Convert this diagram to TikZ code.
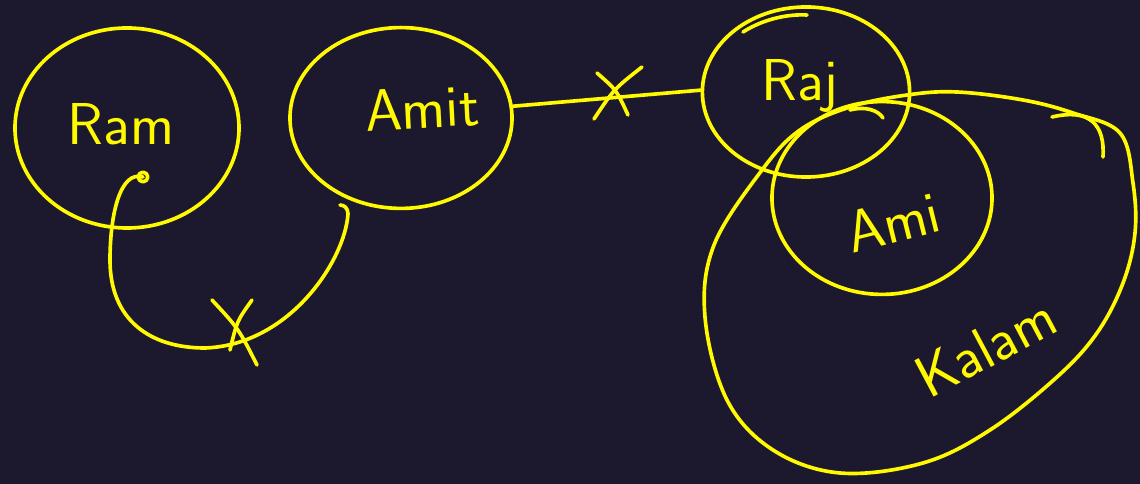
\documentclass[tikz,border=0pt]{standalone}
\usepackage{tikz}
\usetikzlibrary{shapes.geometric, positioning, calc}
\definecolor{bgnight}{RGB}{28,24,46}
\definecolor{penyellow}{RGB}{255,250,0}
\tikzset{
    pen/.style={draw=penyellow, line width=2.6pt, line cap=round, line join=round},
    blob/.style={pen, ellipse, inner sep=0pt},
    hand/.style={text=penyellow, font=\sffamily\fontsize{42}{42}\selectfont, inner sep=0pt}
}
\newcommand{\friend}[7]{
    \node[blob, minimum width=#3, minimum height=#4] (#1) at (#2) {};
    \node[hand, rotate=#7] (#1-t) at (#5) {#6};
}
\newcommand{\cross}[4]{
    \draw[pen] (#1) .. controls ($(#1)!0.5!(#2) + (4,-4)$) .. (#2);
    \draw[pen] (#3) .. controls ($(#3)!0.5!(#4) + (-4,-4)$) .. (#4);
}

\begin{document}
\begin{tikzpicture}[x=0.025cm, y=-0.025cm]
                    \fill[bgnight] (0,0) rectangle (1140,484);
                    \useasboundingbox (0,0) rectangle (1140,484);
                    \friend{ram}{127,128}{5.6cm}{5cm}{121,124}{Ram}{0}
                    \friend{amit}{401,118}{5.55cm}{4.52cm}{422,108}{Amit}{3}
                    \friend{raj}{806,92}{5.18cm}{4.25cm}{800,86}{Raj}{0}
                    \friend{ami}{882,198}{5.5cm}{4.82cm}{893,222}{Ami}{14}
                    \node[hand, rotate=28] (kalam-t) at (986,347) {Kalam};
                    % kalam outline
                    \draw[pen] plot[smooth cycle, tension=0.6] coordinates {
                        (762,170) (800,130) (850,107) (907,95) (957,92) (1023,100)
                        (1073,113) (1120,133) (1133,183) (1135,233) (1123,283)
                        (1097,333) (1057,377) (990,430) (923,463) (840,473)
                        (773,450) (727,400) (705,317) (714,245)};
                    \draw[pen] (1052,117) .. controls (1090,108) and (1105,125) .. (1103,157);
                    % pen marks on the rims
                    \draw[pen] (743,32) .. controls (765,18) and (790,14) .. (807,15);
                    \draw[pen] (850,110) .. controls (865,106) and (878,110) .. (883,118);
                    % links
                    \coordinate (ramspiral) at (143,177);
                    \coordinate (amitend) at (340,205);
                    \draw[pen] (ramspiral) circle[radius=0.12cm];
                    \draw[pen] (ramspiral) .. controls (120,170) and (110,215) .. (110,260)
                        .. controls (110,320) and (150,348) .. (205,348)
                        .. controls (290,345) and (345,260) .. (348,214)
                        .. controls (348,208) and (344,205) .. (amitend);
                    \cross{212,300}{257,365}{252,300}{230,350}
                    \draw[pen] (amit.6) -- (raj.179);
                    \cross{597,73}{628,115}{642,67}{594,119}
\end{tikzpicture}
\end{document}
